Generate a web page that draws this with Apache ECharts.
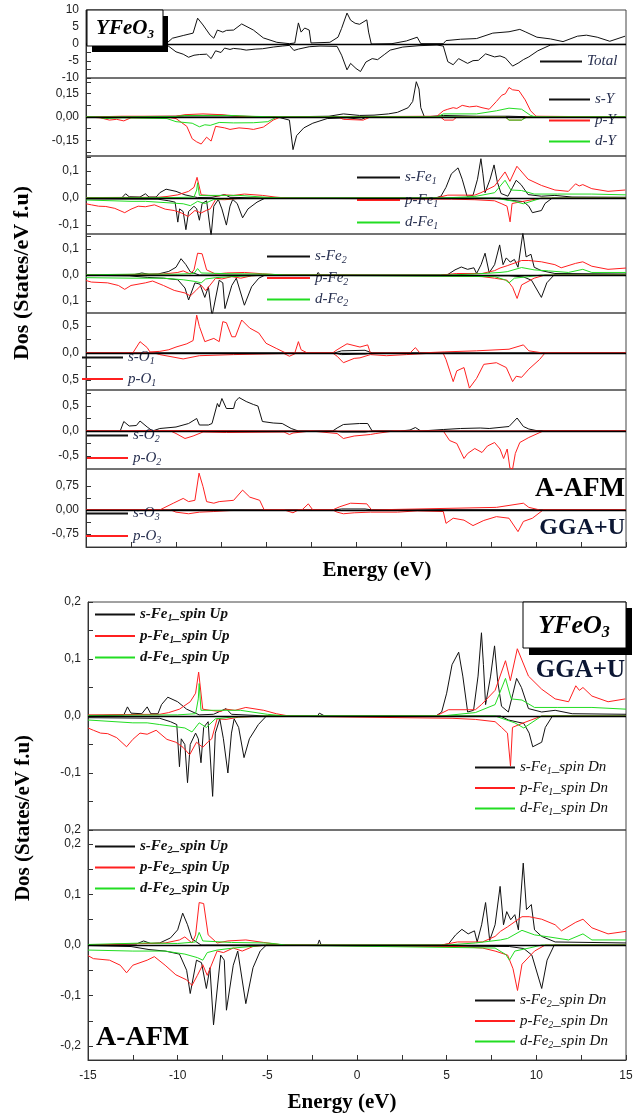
<!DOCTYPE html>
<html>
<head>
<meta charset="utf-8">
<title>YFeO3 DOS</title>
<script src="https://cdn.jsdelivr.net/npm/echarts@6.0.0/dist/echarts.min.js"></script>
<style>
html, body { margin: 0; padding: 0; background: #fff; }
#myChart { width: 633px; height: 1119px; }
</style>
</head>
<body>
<div id="myChart"></div>
<script>
// ---- data: [energy (eV), DOS] ----
var totalUp = [[-15,0.2],[-13,0.3],[-11,0.4],[-10.5,0.3],[-10.2,1.7],[-9.6,2.5],[-9.05,3.2],[-8.8,7.6],[-8.5,5.6],[-8.1,2.6],[-7.9,1.7],[-7.7,4.1],[-7.4,3.5],[-7.2,4.0],[-6.8,4.1],[-6.35,5.9],[-5.7,4.1],[-5.15,1.8],[-4.4,0.5],[-3.7,0.1],[-3.4,0.3],[-3.2,6.2],[-3.05,3.5],[-2.85,4.7],[-2.6,4.1],[-2.5,0.3],[-1.45,0.5],[-1.0,2.0],[-0.8,4.6],[-0.5,9.1],[-0.3,7.0],[-0.05,6.1],[0.2,5.8],[0.6,7.1],[0.7,3.5],[0.85,0],[2.0,0.1],[2.8,0.9],[3.4,2.0],[3.6,0.1],[4.85,0.1],[5.0,1.0],[5.8,1.4],[6.7,1.6],[7.6,3.2],[8.5,3.6],[9.1,4.3],[9.4,3.6],[10.05,2.0],[10.8,1.5],[11.5,0.7],[12.3,2.3],[12.8,2.6],[13.4,2.0],[14.1,0.8],[14.95,2.3]];
var totalDn = [[-15,-0.2],[-10.5,-0.3],[-10.0,-2.3],[-9.6,-3.0],[-9.3,-3.9],[-9.0,-3.3],[-8.7,-3.1],[-8.3,-3.0],[-8.05,-4.3],[-7.8,-2.0],[-7.5,-2.5],[-7.3,-1.2],[-7.0,-1.6],[-6.8,-1.3],[-6.4,-1.5],[-6.1,-1.8],[-5.6,-1.5],[-5.2,-1.4],[-4.6,-0.9],[-4.1,-0.6],[-3.7,-0.4],[-3.45,-1.9],[-3.2,-1.5],[-2.6,-0.8],[-2.0,-0.6],[-1.05,-0.7],[-0.8,-3.3],[-0.5,-7.6],[-0.3,-5.7],[0.0,-7.2],[0.25,-8.1],[0.55,-5.3],[0.9,-4.3],[1.2,-4.6],[1.6,-3.0],[1.9,-1.8],[2.6,-0.9],[3.5,-0.5],[4.5,-0.3],[4.85,-0.6],[5.1,-5.2],[5.4,-6.1],[5.7,-4.3],[5.95,-5.0],[6.2,-5.7],[6.5,-4.9],[6.8,-4.8],[7.2,-2.9],[7.7,-3.8],[8.0,-3.5],[8.3,-4.1],[8.7,-6.5],[9.05,-5.5],[9.3,-4.6],[9.6,-3.8],[10.1,-2.0],[10.8,-0.3],[11.5,-0.1],[15,-0.1]];

var sYUp = [[-15,0],[-10,0.005],[-9.5,0.01],[-8.5,0.01],[-7.5,0.012],[-6.5,0.005],[-4.5,0],[-1.5,0.005],[-0.7,0.02],[0.2,0.01],[1.0,0.012],[1.8,0.02],[2.3,0.03],[2.9,0.06],[3.15,0.1],[3.35,0.227],[3.5,0.18],[3.6,0.06],[3.8,0.0],[4.85,0.01],[6.7,0.005],[8.5,0.005],[10,0],[15,0]];
var sYDn = [[-15,0],[-4.5,0],[-4.2,-0.005],[-3.7,-0.02],[-3.5,-0.21],[-3.3,-0.12],[-2.9,-0.07],[-2.4,-0.04],[-1.6,-0.01],[-0.5,-0.005],[0.3,-0.015],[0.6,0],[15,0]];
var pYUp = [[-15,0],[-13,0.005],[-10,0.005],[-9.5,0.015],[-8.5,0.02],[-7.5,0.015],[-6.5,0.005],[-4,0],[4.5,0.005],[4.85,0.04],[5.1,0.05],[5.4,0.06],[5.6,0.055],[5.9,0.075],[6.3,0.065],[6.7,0.07],[7.0,0.06],[7.4,0.05],[7.8,0.1],[8.1,0.14],[8.3,0.15],[8.5,0.19],[8.7,0.175],[9.05,0.17],[9.4,0.11],[9.7,0.04],[10.0,0.005],[15,0]];
var pYDn = [[-15,0],[-14.2,-0.005],[-13.7,-0.02],[-13.3,-0.015],[-12.9,-0.025],[-12.5,-0.005],[-10.3,-0.005],[-10,-0.01],[-9.4,-0.06],[-9.1,-0.14],[-8.85,-0.16],[-8.6,-0.174],[-8.3,-0.13],[-8.05,-0.155],[-7.8,-0.06],[-7.3,-0.07],[-7.0,-0.08],[-6.5,-0.07],[-6.0,-0.075],[-5.7,-0.08],[-5.15,-0.065],[-4.6,-0.02],[-4.2,0],[-1.0,0],[-0.7,-0.015],[0.4,-0.02],[0.8,0],[4.7,0],[4.9,-0.02],[5.4,-0.02],[5.6,0],[8.3,0],[8.5,-0.02],[9.2,-0.02],[9.4,0],[15,0]];
var dYUp = [[-15,0],[-10,0.003],[-9.5,0.01],[-7,0.01],[-6,0.005],[-4,0],[4.5,0],[4.85,0.02],[6.7,0.02],[7.8,0.04],[8.5,0.057],[9.2,0.05],[9.7,0.01],[10,0],[15,0]];
var dYDn = [[-15,0],[-14.3,-0.003],[-13.9,-0.01],[-13,-0.005],[-10.5,-0.01],[-10,-0.03],[-9.1,-0.04],[-8.7,-0.063],[-8.4,-0.05],[-8.1,-0.054],[-7.6,-0.035],[-6.8,-0.038],[-5.7,-0.037],[-4.9,-0.03],[-4.4,0],[8.3,0],[8.5,-0.02],[9.2,-0.02],[9.5,0],[15,0]];

var sFe1Up = [[-15,0],[-13.0,0.002],[-12.8,0.016],[-12.6,0.005],[-12.0,0.004],[-11.7,0.016],[-11.5,0.004],[-11.1,0.004],[-10.9,0.02],[-10.55,0.033],[-10.0,0.025],[-9.5,0.012],[-8.8,0.002],[-8.0,0.003],[-7.3,0.013],[-7.0,0.003],[-5,0],[-2.2,0],[-2.1,0.005],[-1.8,0],[4.4,0],[4.72,0.007],[5.0,0.04],[5.3,0.09],[5.67,0.112],[5.9,0.07],[6.17,0.007],[6.5,0.01],[6.75,0.07],[6.94,0.146],[7.05,0.09],[7.17,0.02],[7.45,0.07],[7.67,0.123],[7.85,0.06],[8.06,0.017],[8.44,0.007],[8.7,0.04],[8.9,0.066],[9.17,0.05],[9.56,0.013],[10.3,0.007],[11.05,0.01],[12,0.004],[15,0.003]];
var sFe1Dn = [[-15,-0.003],[-11,-0.004],[-10.4,-0.01],[-10.05,-0.015],[-9.9,-0.089],[-9.8,-0.04],[-9.6,-0.05],[-9.45,-0.117],[-9.3,-0.05],[-9.0,-0.03],[-8.85,-0.04],[-8.7,-0.082],[-8.55,-0.02],[-8.3,-0.01],[-8.05,-0.141],[-7.9,-0.03],[-7.65,-0.005],[-7.45,-0.04],[-7.2,-0.1],[-7.0,-0.03],[-6.85,-0.005],[-6.6,-0.02],[-6.3,-0.073],[-6.0,-0.04],[-5.5,-0.015],[-5.05,0],[8.0,0],[8.44,-0.007],[9.3,-0.013],[9.6,-0.03],[9.8,-0.054],[10.3,-0.046],[10.5,-0.02],[10.9,0],[15,0]];
var pFe1Up = [[-15,0.002],[-11,0.003],[-10.5,0.006],[-9.9,0.012],[-9.3,0.025],[-9.0,0.04],[-8.83,0.077],[-8.6,0.012],[-8.2,0.01],[-7.6,0.008],[-7.3,0.012],[-6.8,0.01],[-6.2,0.015],[-5.2,0.01],[-4.5,0.004],[-3.8,0],[4.4,0],[5.1,0.011],[6.6,0.011],[6.94,0.02],[7.7,0.045],[8.28,0.097],[8.55,0.062],[8.94,0.118],[9.56,0.07],[10.3,0.047],[11.05,0.03],[11.8,0.025],[12.2,0.053],[12.4,0.045],[12.6,0.05],[13.1,0.035],[14.0,0.025],[14.96,0.03]];
var pFe1Dn = [[-15,-0.021],[-14.7,-0.025],[-14.3,-0.03],[-13.9,-0.031],[-13.4,-0.038],[-12.85,-0.054],[-12.5,-0.041],[-12.1,-0.03],[-11.7,-0.032],[-11.2,-0.025],[-10.6,-0.041],[-10.1,-0.046],[-9.7,-0.055],[-9.33,-0.068],[-8.95,-0.046],[-8.6,-0.055],[-8.3,-0.045],[-8.1,-0.04],[-7.8,-0.005],[-7.3,-0.006],[-6.6,-0.002],[-5,0],[5.3,-0.004],[6.6,-0.006],[7.7,-0.01],[8.06,-0.02],[8.39,-0.03],[8.56,-0.088],[8.67,-0.02],[9.2,-0.013],[10.3,0],[15,0]];
var dFe1Up = [[-15,0.001],[-10,0.002],[-9.0,0.004],[-8.85,0.03],[-8.8,0.057],[-8.7,0.01],[-8.0,0.01],[-6.5,0.01],[-5.0,0.003],[-4,0],[4.7,0],[6.6,0.006],[7.7,0.02],[8.28,0.066],[8.6,0.03],[9.2,0.028],[9.9,0.015],[11.2,0.015],[13.1,0.015],[15,0.012]];
var dFe1Dn = [[-15,-0.007],[-12.5,-0.012],[-11.7,-0.012],[-11.0,-0.015],[-9.6,-0.021],[-9.2,-0.028],[-8.8,-0.012],[-8.4,-0.02],[-7.9,-0.005],[-7.0,-0.002],[-5,0],[7.7,0],[8.8,-0.012],[9.3,-0.021],[10.3,0],[15,0]];

var sFe2Up = [[-15,0],[-12.3,0.002],[-11.9,0.008],[-11.5,0.003],[-11.0,0.004],[-10.4,0.014],[-10.0,0.03],[-9.72,0.063],[-9.45,0.04],[-9.2,0.012],[-8.7,0],[-5,0],[-2.2,0],[-2.1,0.01],[-2.0,0],[4.7,0],[5.1,0.002],[5.5,0.02],[5.85,0.031],[6.2,0.022],[6.55,0.028],[6.7,0.006],[6.95,0.04],[7.17,0.084],[7.4,0.009],[7.7,0.04],[7.98,0.116],[8.17,0.04],[8.35,0.066],[8.57,0.05],[8.8,0.06],[9.0,0.03],[9.27,0.162],[9.45,0.07],[9.72,0.08],[9.9,0.03],[10.3,0.017],[11.05,0.006],[15,0.004]];
var sFe2Dn = [[-15,-0.001],[-12.6,-0.003],[-11.6,-0.009],[-10.7,-0.012],[-9.9,-0.018],[-9.5,-0.05],[-9.3,-0.096],[-8.95,-0.03],[-8.67,-0.035],[-8.4,-0.086],[-8.2,-0.045],[-8.0,-0.158],[-7.6,-0.02],[-7.4,-0.03],[-7.28,-0.129],[-6.9,-0.04],[-6.65,-0.012],[-6.2,-0.116],[-5.8,-0.045],[-5.4,-0.012],[-5.05,0],[8.5,-0.003],[9.3,-0.007],[9.75,-0.02],[10.3,-0.086],[10.6,-0.03],[11.0,0],[15,0]];
var pFe2Up = [[-15,0],[-10.7,0.004],[-9.9,0.01],[-9.6,0.016],[-9.2,0.004],[-9.0,0.02],[-8.8,0.084],[-8.55,0.082],[-8.3,0.02],[-7.8,0.004],[-7.2,0.008],[-6.2,0.01],[-5.2,0.005],[-4.1,0],[4.7,0],[5.6,0.006],[7.0,0.006],[7.7,0.017],[8.0,0.027],[8.4,0.036],[9.2,0.056],[9.6,0.056],[10.3,0.051],[11.05,0.04],[11.4,0.028],[12.2,0.045],[12.6,0.051],[13.1,0.034],[14.0,0.022],[15,0.027]];
var pFe2Dn = [[-15,-0.021],[-14.7,-0.027],[-13.8,-0.03],[-13.2,-0.04],[-12.85,-0.055],[-12.5,-0.04],[-11.7,-0.03],[-11.3,-0.023],[-10.7,-0.04],[-10.1,-0.059],[-9.5,-0.069],[-9.2,-0.08],[-8.9,-0.06],[-8.6,-0.039],[-8.35,-0.06],[-7.8,-0.012],[-7.45,-0.015],[-6.9,-0.006],[-6.4,-0.012],[-5.8,-0.003],[-5,0],[5.6,-0.003],[7.0,-0.006],[7.7,-0.012],[8.4,-0.02],[8.7,-0.047],[8.95,-0.09],[9.2,-0.038],[9.9,-0.012],[10.5,0],[15,0]];
var dFe2Up = [[-15,0.001],[-11.8,0.004],[-10,0.003],[-9.0,0.006],[-8.8,0.025],[-8.6,0.008],[-7,0.005],[-5.1,0.004],[-4.7,0.003],[-4,0],[5,0],[6.6,0.004],[8.0,0.01],[8.4,0.013],[9.2,0.029],[9.9,0.02],[10.7,0.016],[11.8,0.01],[12.6,0.022],[13.1,0.01],[15,0.01]];
var dFe2Dn = [[-15,-0.01],[-12.5,-0.012],[-10.7,-0.012],[-9.6,-0.018],[-8.9,-0.025],[-8.6,-0.03],[-8.35,-0.015],[-7.8,-0.01],[-6.9,-0.006],[-5,0],[7.7,-0.006],[8.3,-0.019],[8.5,-0.03],[8.8,-0.012],[9.6,-0.006],[10.3,0],[15,0]];

var sO1Up = [[-15,0],[-1.2,0],[-0.8,0.04],[0.5,0.05],[0.9,0],[15,0]];
var sO1Dn = [[-15,0],[-1.2,0],[-0.8,-0.03],[0.5,-0.02],[0.9,0],[15,0]];
var pO1Up = [[-15,0],[-12.4,0],[-12,0.21],[-11.6,0.1],[-11.45,0.02],[-10.9,0.03],[-10.4,0.06],[-10,0.11],[-9.4,0.17],[-9.05,0.23],[-8.85,0.70],[-8.7,0.49],[-8.4,0.21],[-7.9,0.27],[-7.6,0.21],[-7.4,0.58],[-7.2,0.56],[-6.9,0.30],[-6.7,0.3],[-6.35,0.61],[-5.9,0.46],[-5.4,0.37],[-5.0,0.18],[-4.4,0.08],[-3.9,0],[-3.4,0],[-3.2,0.21],[-3.05,0.06],[-2.7,0],[-1.3,0],[-1.05,0.06],[-0.5,0.17],[0.22,0.11],[0.65,0.15],[0.8,0],[3.0,0],[3.3,0.1],[3.55,0],[4.9,0.02],[6.7,0.04],[8.5,0.07],[9.3,0.15],[9.6,0.04],[10.4,0],[15,0]];
var pO1Dn = [[-15,0],[-11.2,0],[-10.9,-0.03],[-9.6,-0.11],[-8.7,-0.05],[-6.8,-0.03],[-4,-0.01],[-3.7,-0.06],[-3.3,0],[-1.3,0],[-1.05,-0.06],[-0.7,-0.18],[-0.1,-0.1],[0.22,-0.09],[0.8,-0.03],[1.7,-0.05],[2.8,-0.03],[3.9,-0.01],[4.85,-0.01],[5.0,-0.12],[5.4,-0.53],[5.6,-0.33],[6.0,-0.27],[6.3,-0.65],[6.7,-0.47],[7.1,-0.21],[7.8,-0.18],[8.35,-0.27],[8.7,-0.53],[8.9,-0.43],[9.2,-0.45],[9.6,-0.3],[10.2,-0.12],[10.5,0],[15,0]];

var sO2Up = [[-15,0],[-13.1,0],[-12.9,0.19],[-12.6,0.1],[-12.2,0.11],[-12,0.2],[-11.6,0.08],[-11.3,0],[-10.9,0.05],[-10,0.08],[-9.3,0.15],[-8.85,0.25],[-8.7,0.12],[-8.2,0.12],[-8.0,0.15],[-7.7,0.55],[-7.6,0.48],[-7.45,0.65],[-7.2,0.45],[-6.8,0.45],[-6.7,0.59],[-6.5,0.67],[-6.1,0.59],[-5.7,0.53],[-5.45,0.5],[-5.2,0.19],[-4.6,0.16],[-4.1,0.15],[-3.6,0.05],[-3.2,0],[-1.3,0],[-1.05,0.06],[-0.7,0.13],[0.2,0.15],[0.65,0.15],[0.9,0],[2.45,0],[3.0,0.02],[3.3,0.07],[3.6,0],[4.85,0.03],[5.8,0.05],[6.9,0.06],[7.4,0.05],[8.5,0.09],[8.95,0.26],[9.3,0.09],[9.6,0.04],[10.0,0.01],[15,0]];
var sO2Dn = [[-15,0],[-1.2,0],[-0.8,-0.02],[0.5,-0.02],[0.9,0],[15,0]];
var pO2Up = [[-15,0],[-9.5,0.01],[-7,0.005],[-5,0],[15,0]];
var pO2Dn = [[-15,0],[-10.3,0],[-10,-0.05],[-9.5,-0.15],[-9.05,-0.1],[-8.5,-0.02],[-7.2,-0.03],[-4.0,-0.02],[-3.7,-0.07],[-3.5,-0.04],[-2.5,0],[-1.05,-0.05],[-0.7,-0.15],[-0.1,-0.1],[0.8,-0.07],[1.1,-0.05],[2.1,0],[4.85,0],[5.2,-0.19],[5.6,-0.25],[6.0,-0.55],[6.2,-0.45],[6.6,-0.35],[7.0,-0.43],[7.3,-0.3],[7.7,-0.23],[8.0,-0.36],[8.2,-0.55],[8.4,-0.36],[8.55,-0.74],[8.7,-0.76],[8.85,-0.45],[9.1,-0.23],[9.6,-0.13],[10.4,0],[15,0]];

var sO3Up = [[-15,0],[-1.2,0],[-0.8,0.03],[0.5,0.03],[0.9,0],[15,0]];
var sO3Dn = [[-15,0],[-1.2,0],[-0.8,-0.02],[0.5,-0.02],[0.9,0],[15,0]];
var pO3Up = [[-15,0],[-10.9,0],[-10.15,0.21],[-9.6,0.36],[-9.3,0.26],[-8.95,0.3],[-8.72,1.15],[-8.5,0.73],[-8.3,0.26],[-7.9,0.21],[-7.6,0.26],[-6.8,0.3],[-6.3,0.62],[-5.9,0.4],[-5.35,0.3],[-5.1,0],[-3.0,0],[-2.65,0.19],[-2.4,0],[-1.3,0],[-0.9,0.1],[-0.3,0.21],[0.6,0.19],[0.87,0],[7.8,0.08],[9.3,0.21],[9.6,0.08],[10.2,0],[15,0]];
var pO3Dn = [[-15,0],[-10.3,0],[-10,-0.07],[-9.3,-0.12],[-8.7,-0.07],[-7.9,-0.05],[-7,-0.02],[-4,0],[-3.5,-0.09],[-3.2,0],[-1.3,0],[-1.05,-0.07],[-0.7,-0.12],[-0.1,-0.09],[0.8,-0.07],[2.3,-0.07],[3.4,-0.03],[4.85,-0.05],[5.0,-0.42],[5.4,-0.26],[6.0,-0.32],[6.5,-0.49],[7.1,-0.33],[7.8,-0.21],[8.5,-0.26],[9.0,-0.68],[9.3,-0.36],[9.8,-0.26],[10.4,0],[15,0]];

// ---- tick values and tick labels ----
var totalTicks = [-10,-7.5,-5,-2.5,0,2.5,5,7.5,10];
var totalLabelVals = [10,5,0,-5,-10];
var totalLabels = ['10','5','0','-5','-10'];
var yTicks = [-0.225,-0.15,-0.075,0,0.075,0.15,0.225];
var yLabelVals = [0.15,0,-0.15];
var yLabels = ['0,15','0,00','-0,15'];
var feTopTicks = [-0.1,-0.05,0,0.05,0.1,0.15];
var feTopLabelVals = [0.1,0,-0.1];
var fe1TopLabels = ['0,1','0,0','-0,1'];
var fe2TopLabels = ['0,1','0,0','0,1'];
var o1Ticks = [-0.5,-0.25,0,0.25,0.5];
var o1LabelVals = [0.5,0,-0.5];
var o1Labels = ['0,5','0,0','0,5'];
var o2Ticks = [-0.5,-0.25,0,0.25,0.5,0.75];
var o2LabelVals = [0.5,0,-0.5];
var o2Labels = ['0,5','0,0','-0,5'];
var o3Ticks = [-0.75,-0.375,0,0.375,0.75];
var o3LabelVals = [0.75,0,-0.75];
var o3Labels = ['0,75','0,00','-0,75'];
var feBotTicks = [-0.2,-0.15,-0.1,-0.05,0,0.05,0.1,0.15,0.2];
var feBotLabelVals = [0.2,0.1,0,-0.1,-0.2];
var fe1BotLabels = ['0,2','0,1','0,0','-0,1','0,2'];
var fe2BotLabels = ['0,2','0,1','0,0','-0,1','-0,2'];
var energyTicks = [-15,-12.5,-10,-7.5,-5,-2.5,0,2.5,5,7.5,10,12.5,15];
var energyLabelVals = [-15,-10,-5,0,5,10,15];
var energyLabels = ['-15','-10','-5','0','5','10','15'];

var K = '#111111', R = '#ff2020', G = '#22dd22';
var SERIF = '"Liberation Serif", "DejaVu Serif", serif';
var SANS = '"Liberation Sans", Arial, sans-serif';

var myChart = echarts.init(document.getElementById('myChart'));

// panel layout (pixels) and axis ranges
var panels = [
    { top: 10,  height: 68,  left: 86, min: -10,    max: 10,    ticks: totalTicks, lv: totalLabelVals, lb: totalLabels },
    { top: 78,  height: 78,  left: 86, min: -0.251, max: 0.251, ticks: yTicks,     lv: yLabelVals,     lb: yLabels },
    { top: 156, height: 78,  left: 86, min: -0.133, max: 0.156, ticks: feTopTicks, lv: feTopLabelVals, lb: fe1TopLabels },
    { top: 234, height: 79,  left: 86, min: -0.146, max: 0.158, ticks: feTopTicks, lv: feTopLabelVals, lb: fe2TopLabels },
    { top: 313, height: 77,  left: 86, min: -0.685, max: 0.74,  ticks: o1Ticks,    lv: o1LabelVals,    lb: o1Labels },
    { top: 390, height: 79,  left: 86, min: -0.76,  max: 0.82,  ticks: o2Ticks,    lv: o2LabelVals,    lb: o2Labels },
    { top: 469, height: 78,  left: 86, min: -1.16,  max: 1.28,  ticks: o3Ticks,    lv: o3LabelVals,    lb: o3Labels, xTicks: true },
    { top: 602, height: 228, left: 88, min: -0.2,   max: 0.2,   ticks: feBotTicks, lv: feBotLabelVals, lb: fe1BotLabels },
    { top: 830, height: 230, left: 88, min: -0.2275, max: 0.2275, ticks: feBotTicks, lv: feBotLabelVals, lb: fe2BotLabels, xTicks: true, xLabels: true }
];

var panelSeries = [
    [['Total', totalUp, K], ['Total', totalDn, K]],
    [['s-Y', sYUp, K], ['s-Y', sYDn, K], ['p-Y', pYUp, R], ['p-Y', pYDn, R], ['d-Y', dYUp, G], ['d-Y', dYDn, G]],
    [['s-Fe1', sFe1Up, K], ['s-Fe1', sFe1Dn, K], ['p-Fe1', pFe1Up, R], ['p-Fe1', pFe1Dn, R], ['d-Fe1', dFe1Up, G], ['d-Fe1', dFe1Dn, G]],
    [['s-Fe2', sFe2Up, K], ['s-Fe2', sFe2Dn, K], ['p-Fe2', pFe2Up, R], ['p-Fe2', pFe2Dn, R], ['d-Fe2', dFe2Up, G], ['d-Fe2', dFe2Dn, G]],
    [['s-O1', sO1Up, K], ['s-O1', sO1Dn, K], ['p-O1', pO1Up, R], ['p-O1', pO1Dn, R]],
    [['s-O2', sO2Up, K], ['s-O2', sO2Dn, K], ['p-O2', pO2Up, R], ['p-O2', pO2Dn, R]],
    [['s-O3', sO3Up, K], ['s-O3', sO3Dn, K], ['p-O3', pO3Up, R], ['p-O3', pO3Dn, R]],
    [['s-Fe1_spin Up', sFe1Up, K], ['s-Fe1_spin Dn', sFe1Dn, K], ['p-Fe1_spin Up', pFe1Up, R], ['p-Fe1_spin Dn', pFe1Dn, R], ['d-Fe1_spin Up', dFe1Up, G], ['d-Fe1_spin Dn', dFe1Dn, G]],
    [['s-Fe2_spin Up', sFe2Up, K], ['s-Fe2_spin Dn', sFe2Dn, K], ['p-Fe2_spin Up', pFe2Up, R], ['p-Fe2_spin Dn', pFe2Dn, R], ['d-Fe2_spin Up', dFe2Up, G], ['d-Fe2_spin Dn', dFe2Dn, G]]
];

function labelFor(p) {
    return function (v) {
        for (var i = 0; i < p.lv.length; i++) {
            if (Math.abs(p.lv[i] - v) < 1e-6) return p.lb[i];
        }
        return '';
    };
}

var grids = [], xAxes = [], yAxes = [], series = [];
panels.forEach(function (p, i) {
    grids.push({
        left: p.left, right: 7, top: p.top, height: p.height,
        show: true, borderColor: '#444', borderWidth: 1, backgroundColor: 'transparent',
        containLabel: false, outerBoundsMode: 'none'
    });
    xAxes.push({
        type: 'value', gridIndex: i, min: -15, max: 15,
        splitLine: { show: false },
        axisLine: { show: !!p.xTicks, onZero: false, lineStyle: { color: '#333' } },
        axisTick: { show: !!p.xTicks, inside: true, length: 5, customValues: energyTicks, lineStyle: { color: '#333' } },
        axisLabel: {
            show: !!p.xLabels, customValues: energyLabelVals, margin: 10,
            fontFamily: SANS, fontSize: 12, color: '#222',
            formatter: function (v) { return energyLabels[energyLabelVals.indexOf(v)]; }
        }
    });
    yAxes.push({
        type: 'value', gridIndex: i, min: p.min, max: p.max,
        splitLine: { show: false },
        axisLine: { show: true, onZero: false, lineStyle: { color: '#333' } },
        axisTick: { show: true, inside: true, length: 5, customValues: p.ticks, lineStyle: { color: '#333' } },
        axisLabel: {
            customValues: p.lv, margin: 7, fontFamily: SANS, fontSize: 12, color: '#222',
            formatter: labelFor(p)
        }
    });
    panelSeries[i].forEach(function (s, j) {
        var item = {
            name: s[0], type: 'line', xAxisIndex: i, yAxisIndex: i,
            data: s[1], showSymbol: false, symbol: 'none', silent: true,
            lineStyle: { width: 1, color: s[2] }, itemStyle: { color: s[2] },
            emphasis: { disabled: true }, animation: false
        };
        if (j === 0) {
            item.markLine = {
                silent: true, symbol: 'none', animation: false, label: { show: false },
                lineStyle: { color: '#000', type: 'solid', width: 1.3 },
                data: [{ yAxis: 0 }]
            };
        }
        series.push(item);
    });
});

function legendText(name) {
    var m = name.match(/^(.*?)(\d)(.*)$/);
    if (!m) return '{t|' + name + '}';
    return '{t|' + m[1] + '}{s|' + m[2] + '}' + (m[3] ? '{t|' + m[3] + '}' : '');
}

function makeLegend(left, top, gap, names, width, color, weight) {
    return {
        left: left, top: top, orient: 'vertical', padding: 0, itemGap: gap,
        itemWidth: width, itemHeight: 2, icon: 'rect', selectedMode: false,
        data: names, formatter: legendText,
        textStyle: {
            rich: {
                t: { fontFamily: SERIF, fontStyle: 'italic', fontWeight: weight, fontSize: 15, color: color, lineHeight: 18 },
                s: { fontFamily: SERIF, fontStyle: 'italic', fontWeight: weight, fontSize: 10, color: color, lineHeight: 10, verticalAlign: 'bottom' }
            }
        }
    };
}

var legendColor = '#283050';
var legends = [
    makeLegend(540, 54, 6, ['Total'], 42, legendColor, 'normal'),
    makeLegend(549, 92, 6, ['s-Y', 'p-Y', 'd-Y'], 41, legendColor, 'normal'),
    makeLegend(357, 170, 6, ['s-Fe1', 'p-Fe1', 'd-Fe1'], 43, legendColor, 'normal'),
    makeLegend(267, 249, 5, ['s-Fe2', 'p-Fe2', 'd-Fe2'], 43, legendColor, 'normal'),
    makeLegend(82, 350, 5, ['s-O1', 'p-O1'], 41, legendColor, 'normal'),
    makeLegend(87, 428, 6, ['s-O2', 'p-O2'], 41, legendColor, 'normal'),
    makeLegend(86, 506, 6, ['s-O3', 'p-O3'], 42, legendColor, 'normal'),
    makeLegend(95, 607, 5, ['s-Fe1_spin Up', 'p-Fe1_spin Up', 'd-Fe1_spin Up'], 40, '#111', 'bold'),
    makeLegend(475, 760, 4, ['s-Fe1_spin Dn', 'p-Fe1_spin Dn', 'd-Fe1_spin Dn'], 40, '#111', 'normal'),
    makeLegend(95, 839, 4.5, ['s-Fe2_spin Up', 'p-Fe2_spin Up', 'd-Fe2_spin Up'], 40, '#111', 'bold'),
    makeLegend(475, 993, 4, ['s-Fe2_spin Dn', 'p-Fe2_spin Dn', 'd-Fe2_spin Dn'], 40, '#111', 'normal')
];

function boxTitle(x, y, size) {
    return {
        type: 'text', x: x, y: y, z: 101,
        style: {
            text: '{a|YFeO}{b|3}', align: 'center', verticalAlign: 'middle',
            rich: {
                a: { fontFamily: SERIF, fontStyle: 'italic', fontWeight: 'bold', fontSize: size, fill: '#000', lineHeight: size + 4 },
                b: { fontFamily: SERIF, fontStyle: 'italic', fontWeight: 'bold', fontSize: Math.round(size * 0.6), fill: '#000', lineHeight: Math.round(size * 0.6), verticalAlign: 'bottom' }
            }
        }
    };
}

function boldText(text, x, y, size, align, fill) {
    return {
        type: 'text', x: x, y: y, z: 101,
        style: { text: text, fontFamily: SERIF, fontWeight: 'bold', fontSize: size, fill: fill || '#000', align: align, verticalAlign: 'middle' }
    };
}

var graphics = [
    { type: 'rect', z: 100, shape: { x: 92, y: 16, width: 76, height: 36 }, style: { fill: '#000' } },
    { type: 'rect', z: 100, shape: { x: 87, y: 10, width: 76, height: 36 }, style: { fill: '#fff', stroke: '#000', lineWidth: 1 } },
    boxTitle(125, 29, 21),
    { type: 'rect', z: 100, shape: { x: 529, y: 608, width: 103, height: 47 }, style: { fill: '#000' } },
    { type: 'rect', z: 100, shape: { x: 523, y: 602, width: 103, height: 46 }, style: { fill: '#fff', stroke: '#000', lineWidth: 1 } },
    boxTitle(574, 626, 26),
    boldText('A-AFM', 625, 489, 27, 'right'),
    boldText('GGA+U', 625, 528, 24, 'right', '#0b1633'),
    boldText('Energy (eV)', 377, 571, 21, 'center'),
    boldText('GGA+U', 625, 671, 25, 'right', '#0b1633'),
    boldText('A-AFM', 96, 1038, 28, 'left'),
    boldText('Energy (eV)', 342, 1103, 21, 'center'),
    { type: 'text', x: 22, y: 273, rotation: Math.PI / 2, z: 101,
      style: { text: 'Dos (States/eV f.u)', fontFamily: SERIF, fontWeight: 'bold', fontSize: 22, fill: '#000', align: 'center', verticalAlign: 'middle' } },
    { type: 'text', x: 24, y: 818, rotation: Math.PI / 2, z: 101,
      style: { text: 'Dos (States/eV f.u)', fontFamily: SERIF, fontWeight: 'bold', fontSize: 21, fill: '#000', align: 'center', verticalAlign: 'middle' } }
];

var option = {
    backgroundColor: '#fff',
    animation: false,
    grid: grids,
    xAxis: xAxes,
    yAxis: yAxes,
    legend: legends,
    graphic: graphics,
    series: series
};

myChart.setOption(option);
</script>
</body>
</html>
